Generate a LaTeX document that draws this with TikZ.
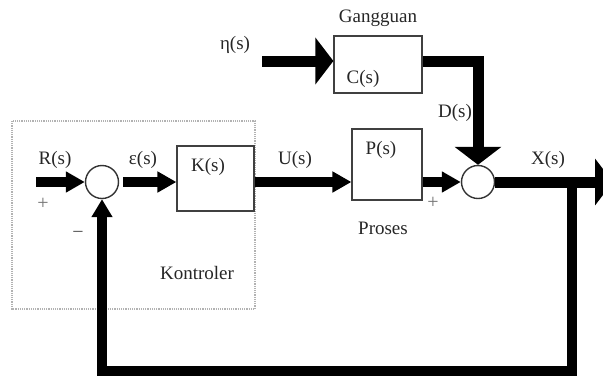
\documentclass[tikz,border=0pt]{standalone}
\usepackage{fontspec}
\setmainfont{Liberation Serif}
\usetikzlibrary{arrows.meta}

\begin{document}
\begin{tikzpicture}[x=1pt, y=-1pt,
	box/.style={rectangle, draw=black!75, line width=1.2pt, inner sep=0pt},
	sum/.style={circle, draw=black!80, line width=1.4pt, minimum size=33pt, inner sep=0pt},
	lbl/.style={text=black!85, font=\fontsize{19}{22}\selectfont, inner sep=0pt},
	sgn/.style={text=black!55, font=\fontsize{20}{22}\selectfont, inner sep=0pt},
	sig/.style={line width=10pt, -{Triangle[length=19pt, width=20pt]}},
	bigsig/.style={line width=11pt, -{Triangle[length=18pt, width=46pt]}}]

	\useasboundingbox (0,0) rectangle (603,376);
	% daerah kontroler
	\draw[black!30, densely dotted, line width=1.2pt] (12,121) rectangle (255,309);

	\node[sum] (S1) at (102,182) {};
	\node[box, minimum width=77pt, minimum height=65pt] (K) at (215.5,178.5) {};
	\node[box, minimum width=70pt, minimum height=71pt] (P) at (387,164.5) {};
	\node[box, minimum width=88pt, minimum height=57pt] (C) at (378,64.5) {};
	\node[sum] (S2) at (478,182) {};

	\coordinate (R) at (36,182);
	\coordinate (eta) at (262,61);
	\coordinate (Xend) at (613,182);
	\coordinate (fb) at (572,182);
	\coordinate (fbl) at (102,371);

	\node[lbl] (Rlbl) at (55,160) {R(s)};
	\node[lbl] (Elbl) at (143,160) {ε(s)};
	\node[lbl] (Klbl) at (208,167) {K(s)};
	\node[lbl] (Ulbl) at (295,160) {U(s)};
	\node[lbl] (Plbl) at (381,150) {P(s)};
	\node[lbl] (Prs) at (383,228) {Proses};
	\node[lbl] (Xlbl) at (548,160) {X(s)};
	\node[lbl] (Dlbl) at (455,113) {D(s)};
	\node[lbl] (Gng) at (378,18) {Gangguan};
	\node[lbl] (Clbl) at (363,79) {C(s)};
	\node[lbl] (Nlbl) at (235,45) {η(s)};
	\node[lbl] (Ktr) at (197,273) {Kontroler};
	\node[sgn] (p1) at (43,204) {+};
	\node[sgn, text=black!70] (m1) at (78,235) {−};
	\node[sgn] (p2) at (433,203) {+};

	\draw[sig] (R) -- (S1);
	\draw[sig, shorten <=4pt] (S1) -- (K.west |- S1);
	\draw[sig] (K.east |- S1) -- (P.west |- S1);
	\draw[sig] (P.east |- S2) -- (S2);
	\draw[bigsig] (eta) -- (C.west |- eta);
	\draw[bigsig] (C.east |- eta) -| (S2);
	\draw[bigsig] (S2) -- (Xend);
	\draw[sig, -{Triangle[length=18pt, width=20pt]}] (fb) |- (fbl) -- (S1);
\end{tikzpicture}
\end{document}
